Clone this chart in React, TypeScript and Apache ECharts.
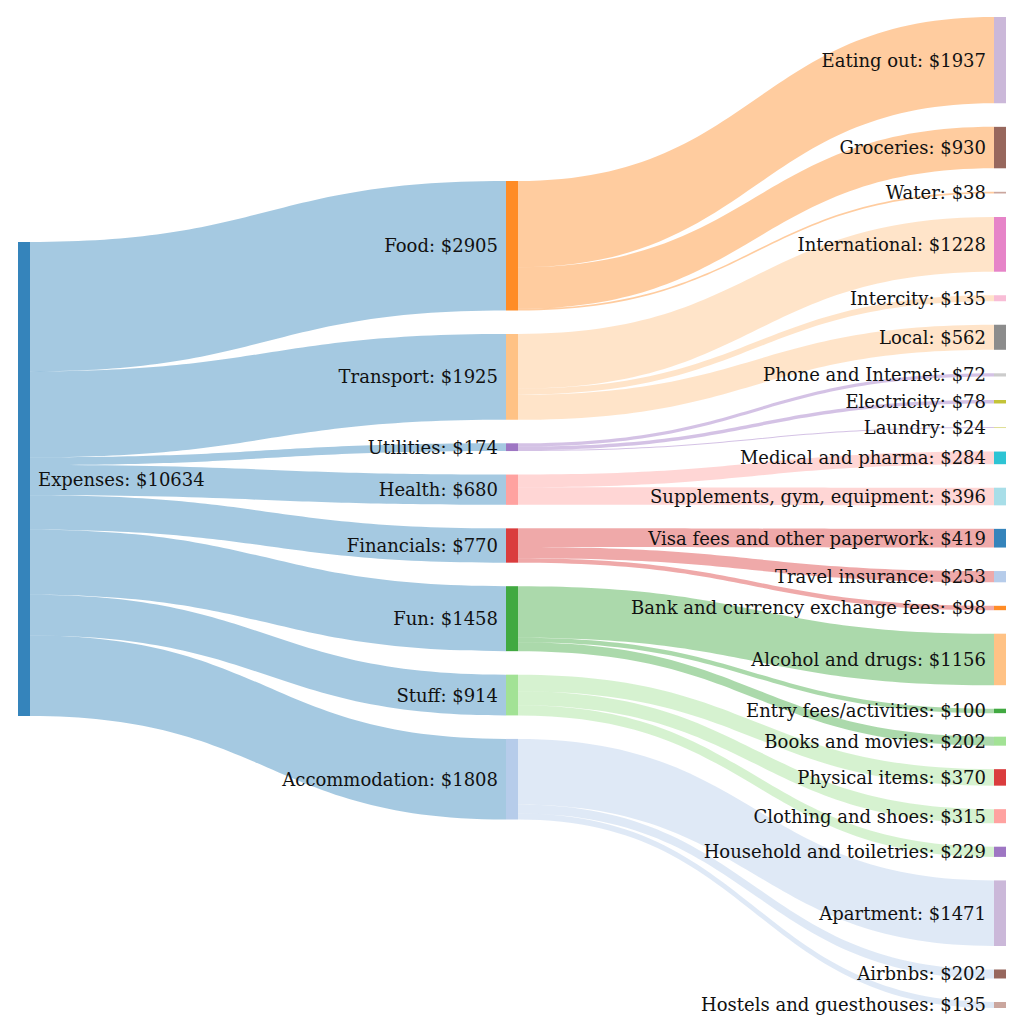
import React, { useEffect, useRef } from "react";
import * as echarts from "echarts";

// Links: source -> target with values (in display order)
const linkSources = [
  "Expenses", "Expenses", "Expenses", "Expenses", "Expenses", "Expenses", "Expenses", "Expenses",
  "Food", "Food", "Food",
  "Transport", "Transport", "Transport",
  "Utilities", "Utilities", "Utilities",
  "Health", "Health",
  "Financials", "Financials", "Financials",
  "Fun", "Fun", "Fun",
  "Stuff", "Stuff", "Stuff",
  "Accommodation", "Accommodation", "Accommodation",
];
const linkTargets = [
  "Food", "Transport", "Utilities", "Health", "Financials", "Fun", "Stuff", "Accommodation",
  "Eating out", "Groceries", "Water",
  "International", "Intercity", "Local",
  "Phone and Internet", "Electricity", "Laundry",
  "Medical and pharma", "Supplements, gym, equipment",
  "Visa fees and other paperwork", "Travel insurance", "Bank and currency exchange fees",
  "Alcohol and drugs", "Entry fees/activities", "Books and movies",
  "Physical items", "Clothing and shoes", "Household and toiletries",
  "Apartment", "Airbnbs", "Hostels and guesthouses",
];
const linkValues = [
  2905, 1925, 174, 680, 770, 1458, 914, 1808,
  1937, 930, 38,
  1228, 135, 562,
  72, 78, 24,
  284, 396,
  419, 253, 98,
  1156, 100, 202,
  370, 315, 229,
  1471, 202, 135,
];

// Color assignment order (category20 cycling)
const colorOrder = [
  "Expenses", "Accommodation", "Food", "Transport", "Fun", "Stuff", "Financials", "Health", "Utilities",
  "Eating out", "Groceries", "Water", "International", "Intercity", "Local",
  "Phone and Internet", "Electricity", "Laundry", "Medical and pharma", "Supplements, gym, equipment",
  "Visa fees and other paperwork", "Travel insurance", "Bank and currency exchange fees",
  "Alcohol and drugs", "Entry fees/activities", "Books and movies",
  "Physical items", "Clothing and shoes", "Household and toiletries",
  "Apartment", "Airbnbs", "Hostels and guesthouses",
];
const palette = [
  "#1f77b4", "#aec7e8", "#ff7f0e", "#ffbb78", "#2ca02c", "#98df8a", "#d62728", "#ff9896",
  "#9467bd", "#c5b0d5", "#8c564b", "#c49c94", "#e377c2", "#f7b6d2", "#7f7f7f", "#c7c7c7",
  "#bcbd22", "#dbdb8d", "#17becf", "#9edae5",
];

// Layout: vertical offset (px, from series top) of each column's stack
const SERIES_TOP = 17;
const SERIES_BOTTOM = 16;
const PAGE_H = 1024;
const columnOffset = [225, 164, 0];

export default function App() {
  const ref = useRef<HTMLDivElement>(null);
  useEffect(() => {
    if (!ref.current) return;
    const chart = echarts.init(ref.current, undefined, { renderer: "svg" });

    const nodeNames: string[] = ["Expenses"];
    linkSources.forEach((s, i) => {
      if (!nodeNames.includes(s)) nodeNames.push(s);
      if (!nodeNames.includes(linkTargets[i])) nodeNames.push(linkTargets[i]);
    });
    const inSum: Record<string, number> = {};
    const outSum: Record<string, number> = {};
    linkValues.forEach((v, i) => {
      outSum[linkSources[i]] = (outSum[linkSources[i]] || 0) + v;
      inSum[linkTargets[i]] = (inSum[linkTargets[i]] || 0) + v;
    });
    const valueOf = (n: string) => Math.max(inSum[n] || 0, outSum[n] || 0);
    const depthOf = (n: string): number => {
      const idx = linkTargets.indexOf(n);
      return idx < 0 ? 0 : depthOf(linkSources[idx]) + 1;
    };

    const baseNodes = nodeNames.map((n) => ({
      name: n,
      value: valueOf(n),
      itemStyle: { color: palette[colorOrder.indexOf(n) % palette.length], opacity: 0.9 },
    }));
    const links = linkValues.map((v, i) => ({
      source: linkSources[i],
      target: linkTargets[i],
      value: v,
    }));

    const makeOption = (nodes: any[]) => ({
      animation: false,
      series: [
        {
          type: "sankey",
          left: 18,
          right: 18,
          top: SERIES_TOP,
          bottom: SERIES_BOTTOM,
          nodeWidth: 12,
          nodeGap: 23.5,
          nodeAlign: "left",
          layoutIterations: 0,
          draggable: false,
          data: nodes,
          links: links,
          itemStyle: { borderWidth: 0 },
          lineStyle: { color: "source", opacity: 0.4, curveness: 0.5 },
          emphasis: { disabled: true },
          label: {
            fontFamily: "DejaVu Serif",
            fontSize: 18,
            color: "#111",
            distance: 8,
            formatter: (p: any) => `${p.name}: $${valueOf(p.name)}`,
          },
          levels: [
            { depth: 0, label: { position: "right" } },
            { depth: 1, label: { position: "left" } },
            { depth: 2, label: { position: "left" } },
          ],
        },
      ],
    });

    chart.setOption(makeOption(baseNodes));

    // shift the left and middle columns by their offsets, keeping the library's own stacking
    try {
      const H = PAGE_H - SERIES_TOP - SERIES_BOTTOM;
      const data = (chart as any).getModel().getSeriesByIndex(0).getData();
      const layoutY: Record<string, number> = {};
      for (let i = 0; i < data.count(); i++) {
        const lay = data.getItemLayout(i);
        if (lay) layoutY[data.getName(i)] = lay.y;
      }
      const shifted = baseNodes.map((n) => {
        const d = depthOf(n.name);
        if (columnOffset[d] === 0 || layoutY[n.name] == null) return n;
        return { ...n, localY: (layoutY[n.name] + columnOffset[d]) / H };
      });
      chart.setOption(makeOption(shifted));
    } catch (e) {
      // keep default layout
    }

    return () => chart.dispose();
  }, []);
  return (
    <div
      ref={ref}
      style={{ position: "absolute", left: 0, top: 0, width: 1024, height: 1024, background: "#fff" }}
    />
  );
}
